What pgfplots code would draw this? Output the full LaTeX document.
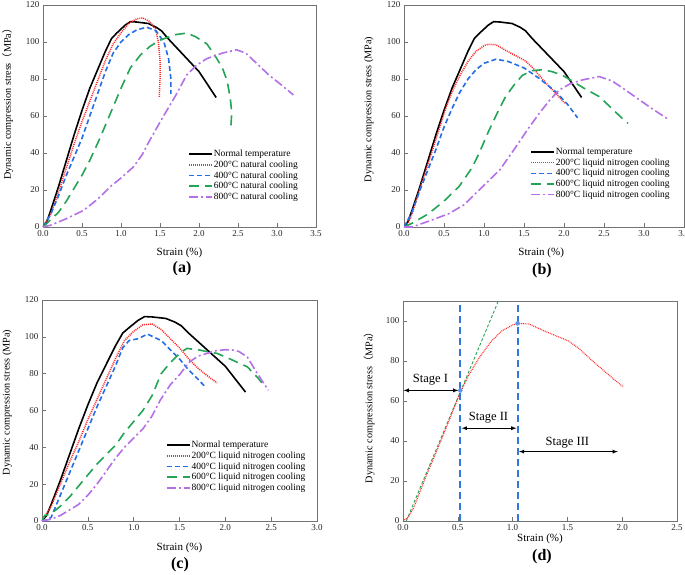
\documentclass[border=0pt]{standalone}
\usepackage{fontspec}
\setmainfont{Liberation Serif}
\newfontfamily\cjk{Noto Sans CJK SC}
\usepackage{pgfplots}
\usepackage{pgfplotstable}
\pgfplotsset{compat=1.18}

\definecolor{cred}{RGB}{255,40,40}
\definecolor{cblue}{RGB}{35,110,230}
\definecolor{cgreen}{RGB}{35,165,85}
\definecolor{cpurple}{RGB}{180,112,230}
\definecolor{cframe}{RGB}{115,115,115}
\definecolor{cvline}{RGB}{50,120,220}
\definecolor{cdot}{RGB}{90,150,235}

\pgfplotstableread{
x y
0 0
0.05 3
0.1 9
0.2 22
0.3 36
0.4 50
0.5 63
0.6 75
0.7 85
0.8 95
0.88 102
0.95 105
1.05 109
1.12 111
1.2 110.8
1.35 110
1.45 108
1.52 106
1.6 102
1.8 93
2.0 84
2.22 70
}\normaltemp

\pgfplotstableread{
x y
0 0
0.05 2
0.1 7
0.2 21
0.3 34
0.4 47.5
0.52 64
0.6 73
0.7 82
0.8 89.5
0.9 95
1.0 98
1.05 98.8
1.15 98.5
1.27 95.5
1.4 92.5
1.51 90
1.6 86.5
1.75 79
1.9 72
2.01 67
}\lnTwo

\pgfplotsset{
  panel/.style={
    scale only axis,
    axis line style={cframe, line width=0.8pt},
    tick style={cframe, line width=0.6pt},
    major tick length=4pt,
    tick align=inside,
    xtick pos=bottom, ytick pos=left,
    xmin=0, ymin=0, ymax=120,
    xtick distance=0.5, ytick distance=20,
    /pgf/number format/assume math mode=true,
    xticklabel style={/pgf/number format/fixed, /pgf/number format/fixed zerofill, /pgf/number format/precision=1},
    tick label style={font=\fontsize{9}{10}\selectfont, text=black!85},
    xlabel style={font=\fontsize{11}{12}\selectfont},
    ylabel style={font=\fontsize{10.2}{12}\selectfont},
    legend style={draw=none, fill=none, font=\fontsize{9.5}{11}\selectfont, anchor=north west,
      inner sep=0pt, row sep=1.4pt, nodes={inner xsep=1pt, inner ysep=0.6pt}},
    legend cell align=left,
    legend image code/.code={\draw[##1] (0pt,0pt)--(23pt,0pt);},
  },
  sblack/.style={black, line width=1.6pt},
  sred/.style={cred, line width=1.5pt, dash pattern=on 1pt off 1pt},
  sblue/.style={cblue, line width=1.6pt, dash pattern=on 5pt off 3pt},
  sgreen/.style={cgreen, line width=1.6pt, dash pattern=on 10pt off 6pt},
  spurple/.style={cpurple, line width=1.6pt, dash pattern=on 9pt off 3pt on 2pt off 3pt},
}

\begin{document}
\begin{tikzpicture}
\useasboundingbox (0,0) rectangle (685pt,574pt);

% ---------------- (a)
\begin{axis}[panel, at={(43pt,347pt)}, anchor=south west, width=273pt, height=222pt,
  xmax=3.5,
  xlabel={Strain (\%)}, xlabel style={at={(axis description cs:0.5,-0.117)}, anchor=center},
  ylabel={Dynamic compression stress{\cjk （}MPa{\cjk ）}},
  ylabel style={at={(axis description cs:-0.13,0.565)}, anchor=center},
  legend style={at={(axis description cs:0.531,0.35)}}]
\addplot[sblack] table {\normaltemp};
\addlegendentry{Normal temperature}
\addplot[sred] coordinates {(0,0)(0.1,7)(0.2,19)(0.3,32)(0.4,45)(0.5,57)(0.6,68)(0.7,79)(0.8,90)(0.9,99)(1.0,105)(1.1,110)(1.2,112.5)(1.28,113)(1.37,111)(1.44,107)(1.48,100)(1.5,90)(1.5,80)(1.49,70)};
\addlegendentry{200°C natural cooling}
\addplot[sblue] coordinates {(0,0)(0.1,7)(0.2,17)(0.3,28)(0.4,38)(0.5,48)(0.6,60)(0.7,72)(0.8,84)(0.9,94)(1.0,100)(1.1,104)(1.2,106.5)(1.33,108)(1.45,106)(1.55,100)(1.61,91)(1.64,80)(1.64,72)};
\addlegendentry{400°C natural cooling}
\addplot[sgreen] coordinates {(0,0)(0.1,4)(0.2,8)(0.3,14)(0.4,21)(0.5,28)(0.6,36)(0.73,48)(0.9,65)(1.0,75)(1.12,86)(1.25,93)(1.37,97.6)(1.5,101)(1.7,104)(1.84,104.8)(1.95,103)(2.1,99)(2.2,93)(2.3,86)(2.36,79)(2.4,70)(2.42,62)(2.41,55)};
\addlegendentry{600°C natural cooling}
\addplot[spurple] coordinates {(0,0)(0.1,1)(0.3,4.5)(0.52,9)(0.7,15)(0.86,21.7)(1.0,26.5)(1.16,32.5)(1.27,39)(1.37,47)(1.54,59.6)(1.7,71)(1.84,82)(1.97,87.5)(2.1,91)(2.3,94)(2.48,95.8)(2.6,94)(2.7,90)(2.9,82)(3.05,77)(3.21,71.4)};
\addlegendentry{800°C natural cooling}
\end{axis}

% ---------------- (b)
\begin{axis}[panel, at={(404pt,347pt)}, anchor=south west, width=280pt, height=222pt,
  xmax=3.5,
  xlabel={Strain (\%)}, xlabel style={at={(axis description cs:0.49,-0.117)}, anchor=center},
  ylabel={Dynamic compression stress (MPa)},
  ylabel style={at={(axis description cs:-0.125,0.53)}, anchor=center},
  legend style={at={(axis description cs:0.45,0.36)}}]
\addplot[sblack] table {\normaltemp};
\addlegendentry{Normal temperature}
\addplot[sred] table {\lnTwo};
\addlegendentry{200°C liquid nitrogen cooling}
\addplot[sblue] coordinates {(0,0)(0.1,8)(0.2,20)(0.3,31)(0.4,42)(0.5,54)(0.6,64)(0.7,73)(0.8,80)(0.9,85)(1.0,88.5)(1.15,90.7)(1.3,89.5)(1.5,86)(1.7,80)(1.9,73)(2.05,66)(2.17,59)};
\addlegendentry{400°C liquid nitrogen cooling}
\addplot[sgreen] coordinates {(0,0)(0.1,2)(0.3,7)(0.5,14)(0.69,22)(0.85,32)(0.94,40)(1.06,52)(1.17,62)(1.27,70.5)(1.38,77)(1.48,82)(1.6,84.5)(1.73,85)(1.85,84)(1.98,82)(2.1,79)(2.25,75)(2.44,70.5)(2.6,64)(2.72,59)(2.8,56)};
\addlegendentry{600°C liquid nitrogen cooling}
\addplot[spurple] coordinates {(0,0)(0.1,0)(0.3,3)(0.56,7.2)(0.75,12)(0.98,21.7)(1.2,31)(1.4,43.4)(1.55,53)(1.69,61.4)(1.82,68.5)(1.94,74)(2.08,77.5)(2.23,79.5)(2.44,81.3)(2.6,79)(2.77,74)(2.95,68.5)(3.1,64)(3.31,58)};
\addlegendentry{800°C liquid nitrogen cooling}
\end{axis}

% ---------------- (c)
\begin{axis}[panel, at={(42pt,53pt)}, anchor=south west, width=275pt, height=221pt,
  xmax=3.0,
  xlabel={Strain (\%)}, xlabel style={at={(axis description cs:0.5,-0.121)}, anchor=center},
  ylabel={Dynamic compression stress (MPa)},
  ylabel style={at={(axis description cs:-0.127,0.536)}, anchor=center},
  legend style={at={(axis description cs:0.45,0.365)}}]
\addplot[sblack] table {\normaltemp};
\addlegendentry{Normal temperature}
\addplot[sred] coordinates {(0,0)(0.1,8)(0.2,20)(0.3,32)(0.4,43)(0.5,55)(0.6,66)(0.7,77)(0.8,88)(0.9,98)(1.0,103)(1.1,106.5)(1.2,107)(1.3,104)(1.4,99)(1.5,94)(1.6,88)(1.7,83)(1.8,79)(1.91,75)};
\addlegendentry{200°C liquid nitrogen cooling}
\addplot[sblue] coordinates {(0,0)(0.05,0.5)(0.1,2)(0.2,14)(0.3,26)(0.4,38)(0.5,50)(0.6,62)(0.7,73)(0.8,84)(0.88,94)(0.95,98)(1.05,99)(1.15,101.5)(1.3,98)(1.4,93)(1.5,88)(1.6,82)(1.7,77)(1.79,72.5)};
\addlegendentry{400°C liquid nitrogen cooling}
\addplot[sgreen] coordinates {(0,0)(0.03,3)(0.1,4)(0.2,8)(0.3,13)(0.4,19)(0.5,25)(0.6,31)(0.7,36)(0.8,41)(0.9,48)(1.0,54)(1.1,60)(1.2,68)(1.3,80)(1.4,86)(1.5,91)(1.58,93.7)(1.7,93)(1.8,92)(1.91,91)(2.05,88)(2.24,83.7)(2.35,78)(2.42,73.8)};
\addlegendentry{600°C liquid nitrogen cooling}
\addplot[spurple] coordinates {(0,0)(0.1,1)(0.2,3)(0.3,6)(0.4,9)(0.5,14)(0.6,20)(0.7,27)(0.8,34)(0.9,40)(1.0,45)(1.1,50)(1.2,57)(1.29,65.6)(1.4,74)(1.51,80)(1.6,86)(1.7,89.5)(1.8,91)(1.9,92.5)(2.0,93)(2.09,92.8)(2.15,92)(2.24,89)(2.35,80)(2.47,71)};
\addlegendentry{800°C liquid nitrogen cooling}
\end{axis}

% ---------------- (d)
\begin{axis}[panel, at={(403pt,53pt)}, anchor=south west, width=274pt, height=220pt,
  xmax=2.5, ymax=110, ytick={0,20,...,100},
  xlabel={Strain (\%)}, xlabel style={at={(axis description cs:0.5,-0.079)}, anchor=center},
  ylabel={Dynamic compression stress{\cjk （}MPa{\cjk ）}},
  ylabel style={at={(axis description cs:-0.124,0.527)}, anchor=center}]
\addplot[cgreen, line width=0.9pt, dash pattern=on 3pt off 2pt] coordinates {(0.03,0)(0.87,110)};
\addplot[cred, line width=1.1pt, dash pattern=on 0.9pt off 0.9pt] table {\lnTwo};
\addplot[cvline, line width=2pt, dash pattern=on 7pt off 4pt] coordinates {(0.523,0)(0.523,110)};
\addplot[cvline, line width=2pt, dash pattern=on 7pt off 4pt] coordinates {(1.046,0)(1.046,110)};
\addplot[only marks, mark=*, mark size=2pt, color=cdot] coordinates {(0.523,65.3)(1.046,98.8)};
\addplot[black, line width=0.8pt, <->, >=latex] coordinates {(0.005,65.3)(0.505,65.3)};
\addplot[black, line width=0.8pt, <->, >=latex] coordinates {(0.535,46.4)(1.035,46.4)};
\addplot[black, line width=0.8pt, <->, >=latex] coordinates {(1.058,34.7)(1.96,34.7)};
\node[font=\fontsize{12.5}{13}\selectfont] at (axis cs:0.25,70.8) {Stage I};
\node[font=\fontsize{12.5}{13}\selectfont] at (axis cs:0.78,51.5) {Stage II};
\node[font=\fontsize{12.5}{13}\selectfont] at (axis cs:1.5,39.2) {Stage III};
\end{axis}

\node[font=\bfseries\fontsize{16}{16}\selectfont] at (182pt,305pt) {(a)};
\node[font=\bfseries\fontsize{16}{16}\selectfont] at (542pt,303pt) {(b)};
\node[font=\bfseries\fontsize{16}{16}\selectfont] at (180pt,9.5pt) {(c)};
\node[font=\bfseries\fontsize{16}{16}\selectfont] at (542pt,17pt) {(d)};
\end{tikzpicture}
\end{document}
